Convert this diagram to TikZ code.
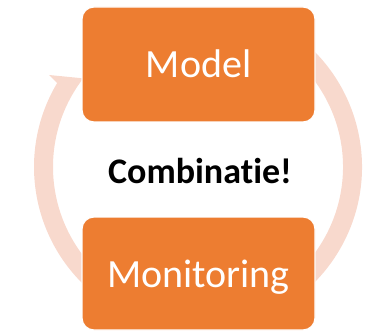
\documentclass[tikz,border=0pt]{standalone}
\usepackage{fontspec}
\setmainfont{Carlito}[Ligatures={NoCommon}]
\usetikzlibrary{calc}
\definecolor{boxorange}{HTML}{ED7D31}
\definecolor{ringpink}{HTML}{F8D9CD}
\tikzset{
  ring/.style={fill=ringpink},
  box/.style={rectangle, rounded corners=12pt, fill=boxorange, draw=white,
    line width=1.2pt, minimum width=233pt, text=white,
    font=\fontsize{40}{48}\selectfont, text height=27pt, text depth=0pt, inner sep=0pt},
  centertext/.style={anchor=base, text=black, font=\bfseries\fontsize{36}{42}\selectfont, inner sep=0pt}
}
\begin{document}
\begin{tikzpicture}[x=1pt,y=1pt]
\useasboundingbox (0,0) rectangle (366,-331);
\coordinate (C) at (198,-167);
\coordinate (notch) at (58,-84);
\coordinate (barb) at (49,-75);
\coordinate (tip) at (100,-80);
% left arc with arrowhead
\fill[ring] ($(C)+(232:164pt)$) arc[start angle=232, end angle=149.3, radius=164pt]
  -- (notch) -- (barb) -- (tip) -- ($(C)+(143:145pt)$)
  arc[start angle=143, end angle=232, radius=145pt] -- cycle;
% right arc
\fill[ring] ($(C)+(60:164pt)$) arc[start angle=60, end angle=-60, radius=164pt]
  -- ($(C)+(-60:145pt)$) arc[start angle=-60, end angle=60, radius=145pt] -- cycle;
\node[box, minimum height=115pt] (model) at (198.5,-64.5) {Model};
\node[box, minimum height=113pt] (monitoring) at (198.5,-273.5) {Monitoring};
\node[centertext] (comb) at (200,-183) {Combinatie!};
\end{tikzpicture}
\end{document}
